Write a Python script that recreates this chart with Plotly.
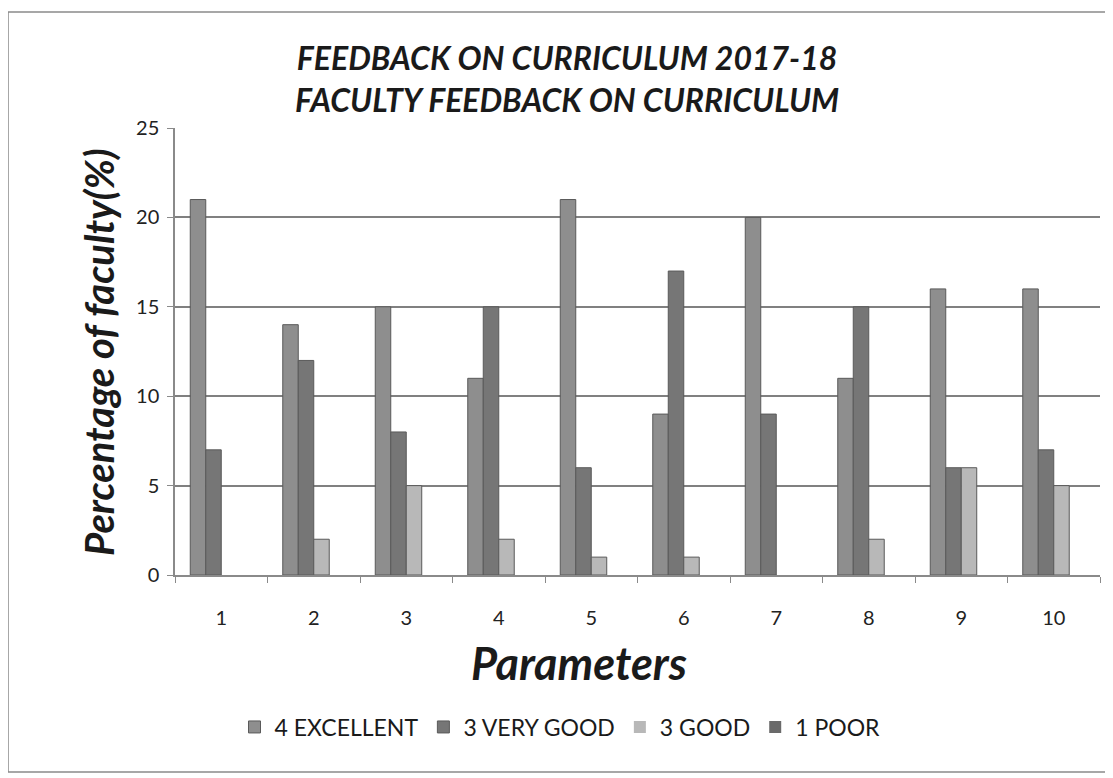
import plotly.graph_objects as go

categories = ["1", "2", "3", "4", "5", "6", "7", "8", "9", "10"]
excellent = [21, 14, 15, 11, 21, 9, 20, 11, 16, 16]
very_good = [7, 12, 8, 15, 6, 17, 9, 15, 6, 7]
good = [0, 2, 5, 2, 1, 1, 0, 2, 6, 5]
poor = [0, 0, 0, 0, 0, 0, 0, 0, 0, 0]

series_names = ["4 EXCELLENT", "3 VERY GOOD", "3 GOOD", "1 POOR"]
series_values = [excellent, very_good, good, poor]
colors = ["#8e8e8e", "#767676", "#b8b8b8", "#6a6a6a"]

FONT = "Lato"
W, H = 1105, 770
L, R, T, B = 167, 13, 120, 203
PW, PH = W - L - R, H - T - B

fig = go.Figure()
for name, vals, col in zip(series_names, series_values, colors):
    fig.add_trace(go.Bar(
        x=categories, y=vals, name=name,
        marker=dict(color=col, line=dict(color="#5a5a5a", width=[1 if v > 0 else 0 for v in vals])),
    ))

def px_x(x):
    return (x - 8 - L) / PW

def px_y(y):
    return (H - B - (y - 8)) / PH

fig.update_layout(
    width=W, height=H,
    paper_bgcolor="white", plot_bgcolor="white",
    barmode="group", bargap=0.33, bargroupgap=0,
    margin=dict(l=L, r=R, t=T, b=B),
    font=dict(family=FONT, color="#222222"),
    showlegend=True,
    legend=dict(orientation="h", x=px_x(560), xanchor="center", y=px_y(727), yanchor="middle",
                font=dict(size=23, color="#1a1a1a"), traceorder="normal"),
    xaxis=dict(
        tickfont=dict(size=20, color="#222222"), ticklabelstandoff=24,
        showline=True, linecolor="#8a8a8a", linewidth=1.5,
        ticks="outside", tickson="boundaries", ticklen=6, tickcolor="#8a8a8a",
        showgrid=False,
    ),
    yaxis=dict(
        tickfont=dict(size=20, color="#222222"), ticklabelstandoff=4,
        range=[0, 25], dtick=5,
        showline=True, linecolor="#8a8a8a", linewidth=1.5,
        ticks="outside", ticklen=6, tickcolor="#8a8a8a",
        showgrid=True, gridcolor="#808080", gridwidth=1.5,
        zeroline=False,
    ),
    shapes=[dict(type="rect", xref="paper", yref="paper",
                 x0=px_x(8), x1=px_x(1108), y0=px_y(772), y1=px_y(12),
                 line=dict(color="#8a8a8a", width=1.5), fillcolor="rgba(0,0,0,0)")],
    annotations=[
        dict(text="<b><i>FEEDBACK ON CURRICULUM 2017-18<br>FACULTY FEEDBACK ON CURRICULUM</i></b>",
             xref="paper", yref="paper", x=px_x(567), y=px_y(78),
             xanchor="center", yanchor="middle", showarrow=False,
             font=dict(size=32, color="#1a1a1a"), align="center"),
        dict(text="<b><i>Percentage of faculty(%)</i></b>",
             xref="paper", yref="paper", x=px_x(99), y=px_y(352), textangle=-90,
             xanchor="center", yanchor="middle", showarrow=False,
             font=dict(size=40, color="#1a1a1a")),
        dict(text="<b><i>Parameters</i></b>",
             xref="paper", yref="paper", x=px_x(579), y=px_y(663),
             xanchor="center", yanchor="middle", showarrow=False,
             font=dict(size=45, color="#1a1a1a")),
    ],
)

fig.write_html("out.html")
